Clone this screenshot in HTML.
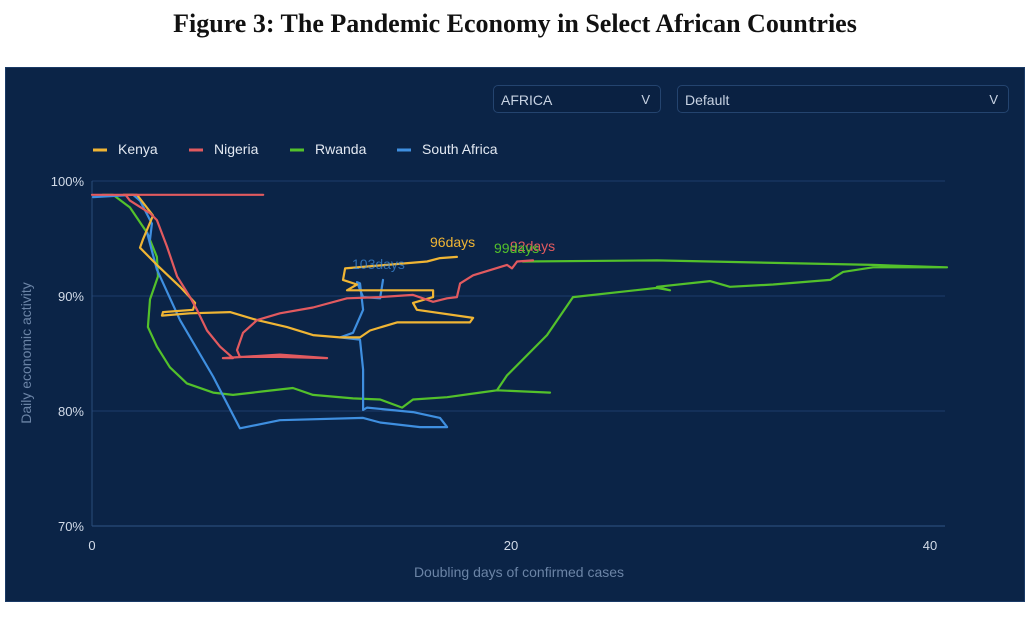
<!DOCTYPE html>
<html><head><meta charset="utf-8"><style>
body{margin:0;background:#fff;width:1028px;height:635px;overflow:hidden;font-family:"Liberation Sans",sans-serif}
#title{position:absolute;left:0;width:1030px;top:9px;text-align:center;font:bold 26px "Liberation Serif",serif;color:#111}
#panel{position:absolute;left:5px;top:67px;width:1020px;height:535px;background:#0b2447;border:1px solid #1a3a66;box-sizing:border-box}
.dd{position:absolute;top:85px;height:28px;border:1px solid #24446f;border-radius:5px;background:#0a2142;color:#c8d3e3;font-size:14px;line-height:28px;padding-left:7px;box-sizing:border-box}
.dd span{position:absolute;right:10px;top:0;font-size:13px}
</style></head><body>
<div id="title">Figure 3: The Pandemic Economy in Select African Countries</div>
<div id="panel"></div>
<div class="dd" style="left:493px;width:168px">AFRICA<span>V</span></div>
<div class="dd" style="left:677px;width:332px">Default<span>V</span></div>
<svg id="chart" width="1028" height="635" style="position:absolute;left:0;top:0"></svg>
<script>
const categories=["Kenya","Nigeria","Rwanda","South Africa"];
const colors=["#f0b534","#e25a5f","#53c12b","#3f8fe0"];
const endLabels=["96days","92days","99days","103days"];
const xTicks=[0,20,40];
const yTicks=[70,80,90,100];
const kenyaX=[1.5,2.15,2.91,2.43,2.29,3.10,4.20,4.92,4.82,3.39,3.34,4.68,6.59,7.88,9.31,10.55,11.84,12.79,13.27,14.56,18.04,18.19,15.51,15.32,16.28,16.28,12.17,12.65,11.98,12.08,15.99,16.61,17.42];
const kenyaY=[98.8,98.8,97.0,94.9,94.2,92.7,90.8,89.4,88.8,88.6,88.3,88.5,88.6,87.9,87.3,86.6,86.4,86.4,87.0,87.7,87.7,88.1,88.8,89.4,89.9,90.5,90.5,91.0,91.4,92.4,93.0,93.3,93.4];
const nigeriaX=[0,8.17,1.6,1.81,2.77,3.10,3.58,4.06,4.68,5.01,5.49,6.11,6.73,6.25,8.97,11.22,8.97,7.06,6.92,7.21,7.88,8.97,10.55,12.17,13.75,15.32,16.28,16.95,17.42,17.57,18.19,19.81,20.05,20.29,21.05];
const nigeriaY=[98.8,98.8,98.8,98.3,97.2,96.6,94.3,91.7,89.9,88.8,87.0,85.6,84.6,84.6,84.9,84.6,84.7,84.7,85.3,86.8,87.9,88.5,89.0,89.8,89.9,90.1,89.5,89.8,89.9,91.1,91.8,92.7,92.4,93.0,93.1];
const rwandaX=[0.5,1.00,1.81,2.63,3.10,3.15,2.77,2.67,3.10,3.72,4.53,5.78,6.73,8.16,9.59,10.55,12.46,13.75,14.80,15.32,16.95,18.52,19.33,21.86,19.33,19.81,21.72,22.96,26.97,27.59,26.97,29.50,30.45,32.51,35.23,35.85,37.28,40.81,37.28,26.97,20.57];
const rwandaY=[98.8,98.8,97.7,95.5,93.4,91.7,89.7,87.3,85.6,83.8,82.4,81.6,81.4,81.7,82.0,81.4,81.1,81.0,80.3,81.0,81.2,81.6,81.8,81.6,81.8,83.1,86.6,89.9,90.7,90.5,90.8,91.3,90.8,91.0,91.4,92.1,92.5,92.5,92.7,93.1,93.0];
const saX=[0.05,1.96,2.29,2.86,2.77,2.63,3.10,4.20,5.78,7.06,8.97,12.94,13.75,15.66,16.95,16.61,15.32,13.13,12.94,12.94,12.79,11.84,12.46,12.94,12.79,12.65,12.94,13.75,13.89];
const saY=[98.6,98.8,98.3,96.3,94.9,95.5,92.3,87.9,83.0,78.5,79.2,79.4,79.0,78.6,78.6,79.4,79.9,80.3,80.1,83.6,86.2,86.4,86.8,88.8,91.1,91.2,89.9,89.8,91.4];
const seriesX=[kenyaX,nigeriaX,rwandaX,saX];
const seriesY=[kenyaY,nigeriaY,rwandaY,saY];

const svg=document.getElementById('chart');const NS='http://www.w3.org/2000/svg';
const x0=92,x1=930,y0=526,y1=181;
const sx=v=>x0+(v-0)/(40-0)*(x1-x0);
const sy=v=>y0-(v-70)/(100-70)*(y0-y1);
function mk(t,a,txt){const e=document.createElementNS(NS,t);for(const k in a)e.setAttribute(k,a[k]);if(txt!=null)e.textContent=txt;svg.appendChild(e);return e;}
yTicks.forEach(t=>{
 const g=mk('line',{x1:x0,x2:945,y1:sy(t),y2:sy(t),stroke:t===70?'#2f5585':'#1c3d6b','stroke-width':1});
 
 
 const l=mk('text',{x:84,y:sy(t)+5,'text-anchor':'end',fill:'#d2dbe8','font-size':13,'font-family':'Liberation Sans, sans-serif'},t+'%');
 
 
});
const ax=mk('line',{x1:x0,x2:x0,y1:y1,y2:y0,stroke:'#2a4c7a'});


xTicks.forEach(t=>{
 const l=mk('text',{x:sx(t),y:550,'text-anchor':'middle',fill:'#d2dbe8','font-size':13,'font-family':'Liberation Sans, sans-serif'},t);
 
 
});
const xt=mk('text',{x:519,y:577,'text-anchor':'middle',fill:'#6b84a6','font-size':14,'font-family':'Liberation Sans, sans-serif'},'Doubling days of confirmed cases');


const yt=mk('text',{x:0,y:0,transform:'translate(31,353) rotate(-90)','text-anchor':'middle',fill:'#6b84a6','font-size':14,'font-family':'Liberation Sans, sans-serif'},'Daily economic activity');


const legX=[93,189,290,397];
categories.forEach((c,i)=>{
 const s=mk('line',{x1:legX[i],x2:legX[i]+14,y1:150,y2:150,stroke:colors[i],'stroke-width':3});
 
 
 const t=mk('text',{x:legX[i]+25,y:154,fill:'#e3e9f2','font-size':14,'font-family':'Liberation Sans, sans-serif'},c);
 
 
});
const order=[2,3,0,1];
order.forEach(i=>{
 const pts=seriesX[i].map((v,j)=>sx(v).toFixed(1)+','+sy(seriesY[i][j]).toFixed(1)).join(' ');
 const p=mk('polyline',{points:pts,fill:'none',stroke:colors[i],'stroke-width':2.2,'stroke-linejoin':'round','stroke-linecap':'round'});
 
 
});
const labPos=[[430,247],[510,251],[494,253],[352,269]];
categories.forEach((c,i)=>{
 const t=mk('text',{x:labPos[i][0],y:labPos[i][1],fill:colors[i],'font-size':14,'font-family':'Liberation Sans, sans-serif',opacity:i===3?0.7:1},endLabels[i]);
 
 
});
</script>
</body></html>
